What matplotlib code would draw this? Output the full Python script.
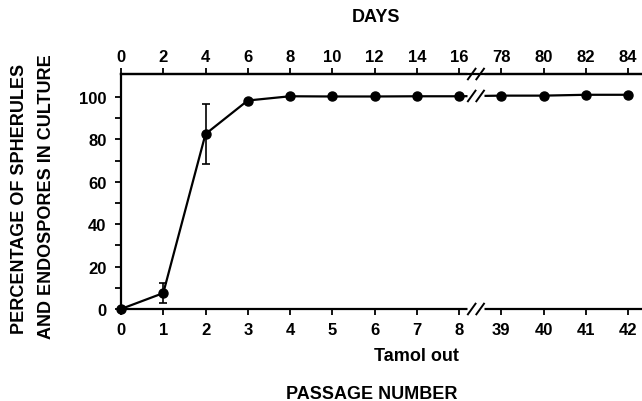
import matplotlib
matplotlib.use('Agg')
import matplotlib.pyplot as plt
from matplotlib.ticker import FixedLocator
from matplotlib.transforms import blended_transform_factory

plt.rcParams.update({
    "font.family": ["Liberation Sans", "DejaVu Sans"],
    "font.weight": "bold",
    "font.size": 12,
})

# passage numbers and the matching days (day = 2 * passage)
passage = [0, 1, 2, 3, 4, 5, 6, 7, 8, 39, 40, 41, 42]
days = [0, 2, 4, 6, 8, 10, 12, 14, 16, 78, 80, 82, 84]
pct = [0, 7.5, 82.5, 98.3, 100.3, 100.2, 100.2, 100.3, 100.3, 100.6, 100.6, 101.0, 101.0]
err = [0, 4.7, 14.0, 0, 0, 0, 0, 0, 0, 0, 0, 0, 0]

# plotting position: passages 39..42 sit right after 8 (axis is broken)
pos = [p if p <= 8 else p - 30 for p in passage]
x_break = 8.4
y_top = 110.8

fig = plt.figure(figsize=(6.42, 4.02), dpi=100)
ax = fig.add_axes([121 / 642, 1 - 310 / 402, 1 - 121 / 642, 235 / 402])

ax.errorbar(pos, pct, yerr=err, color='black', linewidth=1.6, marker='o',
            markersize=6.5, capsize=3, elinewidth=1.2, capthick=1.2,
            clip_on=False, zorder=3)

ax.set_xlim(0, 12.33)
ax.set_ylim(0, y_top)
ax.spines['right'].set_visible(False)
for s in ['left', 'top', 'bottom']:
    ax.spines[s].set_linewidth(1.6)

ax.xaxis.set_major_locator(FixedLocator(pos))
ax.set_xticklabels([str(p) for p in passage])
ax.yaxis.set_major_locator(FixedLocator([0, 20, 40, 60, 80, 100]))
ax.yaxis.set_minor_locator(FixedLocator([10, 30, 50, 70, 90]))
ax.tick_params(axis='both', which='both', direction='out', length=4.5, width=1.3)
ax.tick_params(axis='x', pad=5, labelsize=12)
ax.tick_params(axis='y', pad=6, labelsize=12)

# top axis with days
top = ax.twiny()
top.set_xlim(ax.get_xlim())
top.xaxis.set_major_locator(FixedLocator(pos))
top.set_xticklabels([str(d) for d in days])
top.tick_params(axis='x', direction='out', length=4.5, width=1.3, pad=3, labelsize=12)
for s in ['left', 'right', 'bottom']:
    top.spines[s].set_visible(False)
top.spines['top'].set_linewidth(1.6)


# "//" break marks on the axes lines and the data line
def break_mark(y):
    ax.plot([x_break - 0.2, x_break + 0.2], [y, y], color='white', linewidth=5,
            clip_on=False, zorder=4, solid_capstyle='butt')
    for dx in (-0.1, 0.1):
        ax.plot([x_break + dx - 0.09, x_break + dx + 0.09], [y - 2.5, y + 2.5],
                color='black', linewidth=1.4, clip_on=False, zorder=5)


break_mark(0)
break_mark(y_top)
break_mark((pct[8] + pct[9]) / 2)

trans = blended_transform_factory(ax.transData, fig.transFigure)
ax.text(7.0, 1 - 357 / 402, 'Tamol out', transform=trans, ha='center', va='center',
        fontsize=13)

fig.text(372 / 642, 1 - 395 / 402, 'PASSAGE NUMBER', ha='center', va='center', fontsize=13)
fig.text(376 / 642, 1 - 17 / 402, 'DAYS', ha='center', va='center', fontsize=13)
fig.text(20 / 642, 1 - 199 / 402, 'PERCENTAGE OF SPHERULES', rotation=90,
         ha='center', va='center', fontsize=13)
fig.text(47 / 642, 1 - 197 / 402, 'AND ENDOSPORES IN CULTURE', rotation=90,
         ha='center', va='center', fontsize=13)

fig.savefig('out.png', dpi=100)
